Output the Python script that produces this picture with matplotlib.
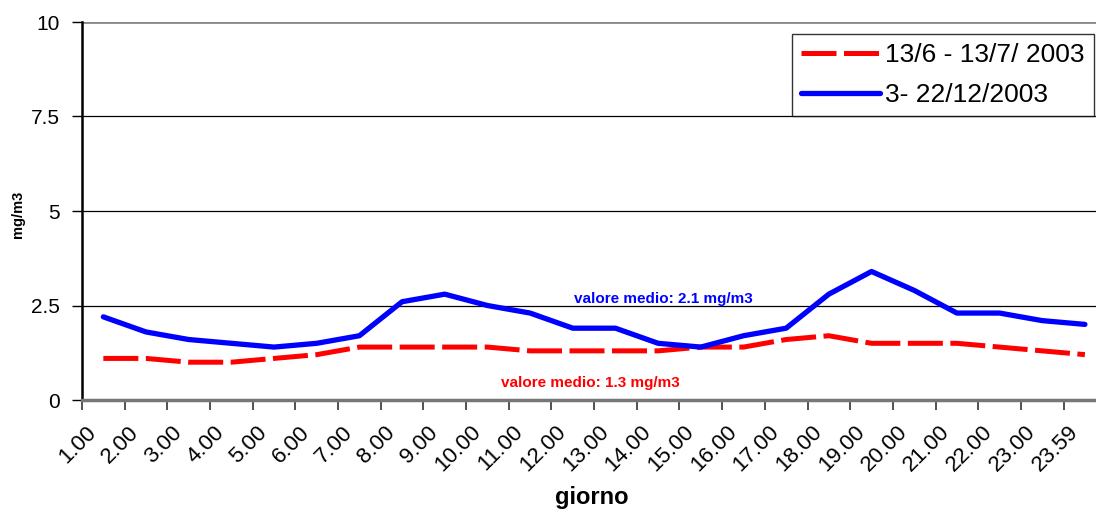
import matplotlib
matplotlib.use("Agg")
import matplotlib.pyplot as plt
import matplotlib.transforms as mtransforms
import numpy as np

plt.rcParams['font.family'] = ['Liberation Sans', 'DejaVu Sans']

hours = ["1.00", "2.00", "3.00", "4.00", "5.00", "6.00", "7.00", "8.00",
         "9.00", "10.00", "11.00", "12.00", "13.00", "14.00", "15.00",
         "16.00", "17.00", "18.00", "19.00", "20.00", "21.00", "22.00",
         "23.00", "23.59"]

summer = [1.1, 1.1, 1.0, 1.0, 1.1, 1.2, 1.4, 1.4, 1.4, 1.4, 1.3, 1.3,
          1.3, 1.3, 1.4, 1.4, 1.6, 1.7, 1.5, 1.5, 1.5, 1.4, 1.3, 1.2]

winter = [2.2, 1.8, 1.6, 1.5, 1.4, 1.5, 1.7, 2.6, 2.8, 2.5, 2.3, 1.9,
          1.9, 1.5, 1.4, 1.7, 1.9, 2.8, 3.4, 2.9, 2.3, 2.3, 2.1, 2.0]

summer_label = "13/6 - 13/7/ 2003"
winter_label = "3- 22/12/2003"
summer_mean = 1.3
winter_mean = 2.1

W, H = 1096, 511
fig = plt.figure(figsize=(W / 100, H / 100), dpi=100)
ax = fig.add_axes([82 / W, (H - 400) / H, (W - 82) / W, (400 - 22) / H])

x = np.arange(len(hours))
ax.plot(x, summer, color='#ff0000', lw=3.6, dashes=(7, 1.5),
        solid_capstyle='butt', dash_capstyle='butt', label=summer_label,
        zorder=3)
ax.plot(x, winter, color='#0000ff', lw=3.8, solid_capstyle='round',
        solid_joinstyle='round', label=winter_label, zorder=4)

ax.set_xlim(-0.5, 23.26)
ax.set_ylim(0, 10)

# value axis
ax.set_yticks([0, 2.5, 5, 7.5, 10])
ax.set_yticklabels(["0", "2.5", "5", "7.5", "10"])
ax.tick_params(axis='y', direction='out', length=7, width=1, pad=9,
               labelsize=15, colors='black')
for yv in [2.5, 5, 7.5]:
    ax.axhline(yv, color='black', lw=0.9, zorder=1)
ax.axhline(10, color='#888888', lw=2, zorder=1)

# category axis: ticks at category boundaries, labels at centres
ax.set_xticks(np.arange(-0.5, 23.0, 1.0))
ax.set_xticklabels([])
ax.tick_params(axis='x', which='major', direction='out', length=7, width=1.2,
               colors='#333333')
ax.set_xticks(x, minor=True)
ax.set_xticklabels(hours, minor=True, rotation=45, ha='right', va='center',
                   rotation_mode='anchor', fontsize=16)
ax.tick_params(axis='x', which='minor', length=0, pad=21)
shift = mtransforms.ScaledTranslation(-10 / 100, 0, fig.dpi_scale_trans)
for lbl in ax.get_xticklabels(minor=True):
    lbl.set_transform(lbl.get_transform() + shift)

ax.spines['top'].set_visible(False)
ax.spines['right'].set_visible(False)
ax.spines['left'].set_linewidth(1.8)
ax.spines['left'].set_color('black')
ax.spines['bottom'].set_linewidth(2.5)
ax.spines['bottom'].set_color('#777777')

fig.text(592 / W, 1 - 497 / H, "giorno", fontsize=17, fontweight='bold',
         ha='center', va='center')
fig.text(18 / W, 1 - 214 / H, "mg/m3", rotation=90, fontsize=10.5,
         fontweight='bold', ha='center', va='center')

ax.text(13.13, 2.67, f"valore medio: {winter_mean} mg/m3", color='#0000ff',
        fontsize=11, fontweight='bold', ha='center', va='center')
ax.text(11.42, 0.45, f"valore medio: {summer_mean} mg/m3", color='#ff0000',
        fontsize=11, fontweight='bold', ha='center', va='center')

leg = ax.legend(loc='upper right', bbox_to_anchor=(1094 / W, 1 - 34 / H),
                bbox_transform=fig.transFigure, fontsize=19, frameon=True,
                fancybox=False, edgecolor='black', handlelength=3.0,
                handletextpad=0.2, borderpad=0.35, labelspacing=0.6,
                borderaxespad=0)
leg.get_frame().set_linewidth(1.0)

fig.savefig("out.png", dpi=100)
